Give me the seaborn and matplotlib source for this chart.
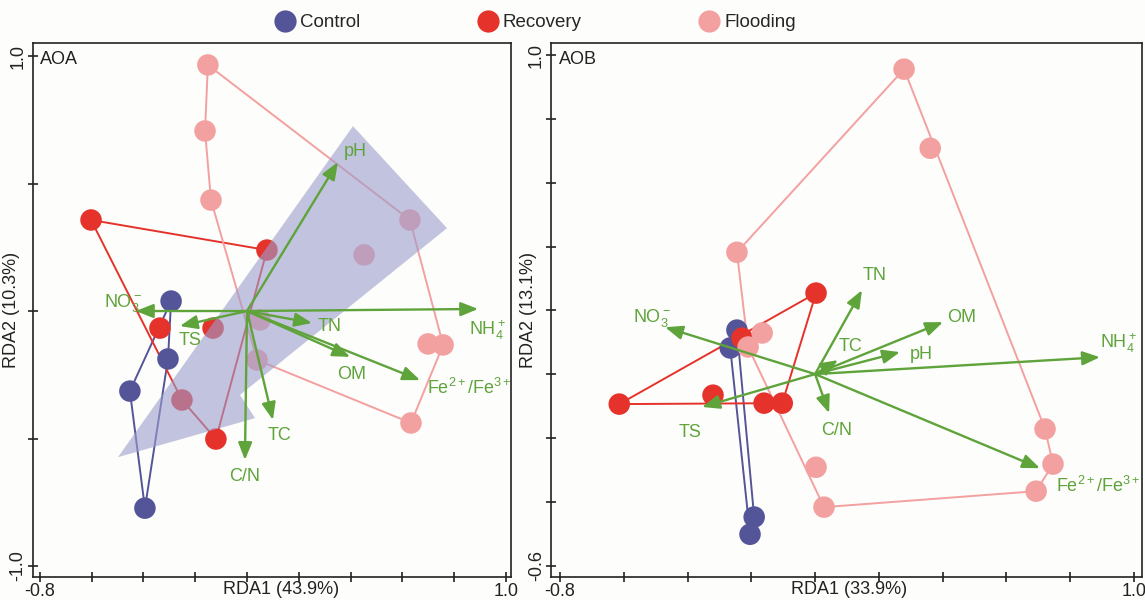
import matplotlib
matplotlib.use("Agg")
import numpy as np
import pandas as pd
import matplotlib.pyplot as plt
import seaborn as sns
from matplotlib.lines import Line2D

sns.set_theme(style="white")
plt.rcParams['font.family'] = ['Liberation Sans', 'DejaVu Sans']
plt.rcParams['mathtext.fontset'] = 'custom'
plt.rcParams['mathtext.rm'] = 'Liberation Sans'
plt.rcParams['mathtext.it'] = 'Liberation Sans:italic'
plt.rcParams['mathtext.bf'] = 'Liberation Sans:bold'

GROUPS = ['Control', 'Recovery', 'Flooding']
GROUP_COLORS = {'Control': '#545499', 'Recovery': '#e5322a', 'Flooding': '#f3a0a0'}
ARROW_COLOR = '#5fa33b'
SHADE_COLOR = '#9c9dcd'
BG = '#fdfdfb'

# ---- AOA (left panel) sample scores ----
aoa_control_x = [-0.293, -0.305, -0.452, -0.394]
aoa_control_y = [0.039, -0.188, -0.314, -0.773]
aoa_recovery_x = [-0.602, 0.077, -0.336, -0.131, -0.251, -0.120]
aoa_recovery_y = [0.357, 0.239, -0.067, -0.067, -0.349, -0.502]
aoa_flooding_x = [-0.151, -0.162, -0.139, 0.629, 0.452, 0.050, 0.039, 0.699, 0.757, 0.633]
aoa_flooding_y = [0.965, 0.706, 0.435, 0.357, 0.220, -0.035, -0.192, -0.129, -0.133, -0.439]

# environmental vectors
env_vars = ['pH', 'NH4', 'NO3', 'TS', 'TN', 'OM', 'Fe', 'TC', 'CN']
env_labels = {'pH': 'pH', 'NH4': r'NH$_4^+$', 'NO3': r'NO$_3^-$', 'TS': 'TS', 'TN': 'TN',
              'OM': 'OM', 'Fe': r'Fe$^{2+}$/Fe$^{3+}$', 'TC': 'TC', 'CN': 'C/N'}
aoa_env_x = [0.351, 0.892, -0.429, -0.259, 0.251, 0.398, 0.668, 0.100, -0.008]
aoa_env_y = [0.584, 0.008, 0.000, -0.059, -0.047, -0.180, -0.271, -0.427, -0.584]

# shaded region in AOA
aoa_shade_x = [-0.498, 0.409, 0.772, -0.027, 0.031]
aoa_shade_y = [-0.573, 0.725, 0.325, -0.329, -0.420]

# ---- AOB (right panel) sample scores ----
aob_control_x = [-0.245, -0.266, -0.191, -0.204]
aob_control_y = [0.138, 0.082, -0.448, -0.502]
aob_recovery_x = [0.003, -0.614, -0.320, -0.229, -0.160, -0.103]
aob_recovery_y = [0.254, -0.094, -0.066, 0.113, -0.091, -0.091]
aob_flooding_x = [0.279, 0.361, -0.245, -0.166, -0.210, 0.003, 0.028, 0.721, 0.746, 0.693]
aob_flooding_y = [0.956, 0.708, 0.382, 0.129, 0.085, -0.292, -0.417, -0.172, -0.282, -0.367]

aob_env_x = [0.266, 0.893, -0.470, -0.354, 0.147, 0.401, 0.705, 0.072, 0.044]
aob_env_y = [0.069, 0.053, 0.147, -0.103, 0.263, 0.163, -0.295, 0.044, -0.122]

# label placement for vectors (text centres)
aoa_label_pos = {'pH': (0.417, 0.624), 'NH4': (0.927, -0.075), 'NO3': (-0.480, 0.031),
                 'TS': (-0.220, -0.114), 'TN': (0.317, -0.059), 'OM': (0.405, -0.247),
                 'Fe': (0.857, -0.302), 'TC': (0.127, -0.490), 'CN': (-0.008, -0.647)}
aob_label_pos = {'pH': (0.332, 0.060), 'NH4': (0.950, 0.097), 'NO3': (-0.511, 0.176),
                 'TS': (-0.392, -0.182), 'TN': (0.188, 0.310), 'OM': (0.461, 0.176),
                 'Fe': (0.887, -0.351), 'TC': (0.110, 0.088), 'CN': (0.066, -0.176)}


def convex_hull(xs, ys):
    pts = sorted(set(zip(xs, ys)))

    def cross(o, a, b):
        return (a[0] - o[0]) * (b[1] - o[1]) - (a[1] - o[1]) * (b[0] - o[0])

    lower, upper = [], []
    for p in pts:
        while len(lower) >= 2 and cross(lower[-2], lower[-1], p) <= 0:
            lower.pop()
        lower.append(p)
    for p in reversed(pts):
        while len(upper) >= 2 and cross(upper[-2], upper[-1], p) <= 0:
            upper.pop()
        upper.append(p)
    h = lower[:-1] + upper[:-1]
    return h + [h[0]]


def draw_panel(ax, groups, env_x, env_y, label_pos, shade=None):
    rows = []
    for g, (xs, ys) in groups.items():
        hull = convex_hull(xs, ys)
        ax.plot([p[0] for p in hull], [p[1] for p in hull], color=GROUP_COLORS[g],
                lw=1.4, zorder=2, solid_joinstyle='round')
        for x, y in zip(xs, ys):
            rows.append({'RDA1': x, 'RDA2': y, 'group': g})
    df = pd.DataFrame(rows)
    sns.scatterplot(data=df, x='RDA1', y='RDA2', hue='group', palette=GROUP_COLORS,
                    s=240, edgecolor='none', linewidth=0, legend=False, ax=ax, zorder=3)

    if shade is not None:
        ax.fill(shade[0], shade[1], color=SHADE_COLOR, alpha=0.6, lw=0, zorder=4)

    for v, x, y in zip(env_vars, env_x, env_y):
        ax.annotate('', xy=(x, y), xytext=(0, 0),
                    arrowprops=dict(arrowstyle='-|>,head_length=0.7,head_width=0.28',
                                    color=ARROW_COLOR, lw=1.7, mutation_scale=15,
                                    shrinkA=0, shrinkB=0),
                    zorder=5)
        lx, ly = label_pos[v]
        ax.text(lx, ly, env_labels[v], color=ARROW_COLOR, fontsize=13,
                ha='center', va='center', zorder=6)


def style_axes(ax, xlim, ylim, yticks, ylabels, xlabel, ylabel, tag):
    ax.set_facecolor(BG)
    ax.set_xlim(*xlim)
    ax.set_ylim(*ylim)
    xt = np.round(np.arange(-0.8, 1.01, 0.2), 2)
    ax.set_xticks(xt)
    ax.set_xticklabels(['-0.8'] + [''] * (len(xt) - 2) + ['1.0'])
    ax.set_yticks(yticks)
    ax.set_yticklabels(ylabels)
    ax.tick_params(bottom=True, left=True, direction='inout', length=7, width=1.2,
                   colors='#222222', labelsize=13, pad=1)
    ax.tick_params(axis='y', labelrotation=90)
    for lbl in ax.get_yticklabels():
        lbl.set_va('center')
    for s in ax.spines.values():
        s.set_color('#222222')
        s.set_linewidth(1.2)
    ax.set_xlabel(xlabel, fontsize=13, color='#222222')
    ax.set_ylabel(ylabel, fontsize=13, color='#222222')
    ax.xaxis.set_label_coords(0.52, -0.008)
    ax.text(0.014, 0.985, tag, transform=ax.transAxes, fontsize=13,
            ha='left', va='top', color='#222222', zorder=7)


fig = plt.figure(figsize=(11.45, 6.0), dpi=100, facecolor=BG)
ax1 = fig.add_axes([33 / 1145, 23 / 600, 478 / 1145, 534 / 600])
ax2 = fig.add_axes([551 / 1145, 23 / 600, 591 / 1145, 534 / 600])

draw_panel(ax1,
           {'Control': (aoa_control_x, aoa_control_y),
            'Recovery': (aoa_recovery_x, aoa_recovery_y),
            'Flooding': (aoa_flooding_x, aoa_flooding_y)},
           aoa_env_x, aoa_env_y, aoa_label_pos, shade=(aoa_shade_x, aoa_shade_y))
style_axes(ax1, (-0.826, 1.019), (-1.043, 1.051), [-1.0, -0.5, 0.0, 0.5, 1.0],
           ['-1.0', '', '', '', '1.0'], 'RDA1 (43.9%)', 'RDA2 (10.3%)', 'AOA')
ax1.yaxis.set_label_coords(-0.028, 0.5)

draw_panel(ax2,
           {'Control': (aob_control_x, aob_control_y),
            'Recovery': (aob_recovery_x, aob_recovery_y),
            'Flooding': (aob_flooding_x, aob_flooding_y)},
           aob_env_x, aob_env_y, aob_label_pos)
yt2 = np.round(np.arange(-0.6, 1.01, 0.2), 2)
style_axes(ax2, (-0.828, 1.025), (-0.636, 1.038), yt2,
           ['-0.6'] + [''] * (len(yt2) - 2) + ['1.0'], 'RDA1 (33.9%)', 'RDA2 (13.1%)', 'AOB')
ax2.yaxis.set_label_coords(-0.023, 0.5)
ax2.xaxis.set_label_coords(0.505, -0.008)

handles = [Line2D([], [], marker='o', ls='', markersize=16, markerfacecolor=GROUP_COLORS[g],
                  markeredgecolor='none', label=g) for g in GROUPS]
fig.legend(handles=handles, loc='center', bbox_to_anchor=(0.468, 0.962), ncol=3,
           frameon=False, fontsize=13.5, columnspacing=6.3, handletextpad=0.3,
           handlelength=1.0)

fig.savefig('out.png', dpi=100, facecolor=BG)
